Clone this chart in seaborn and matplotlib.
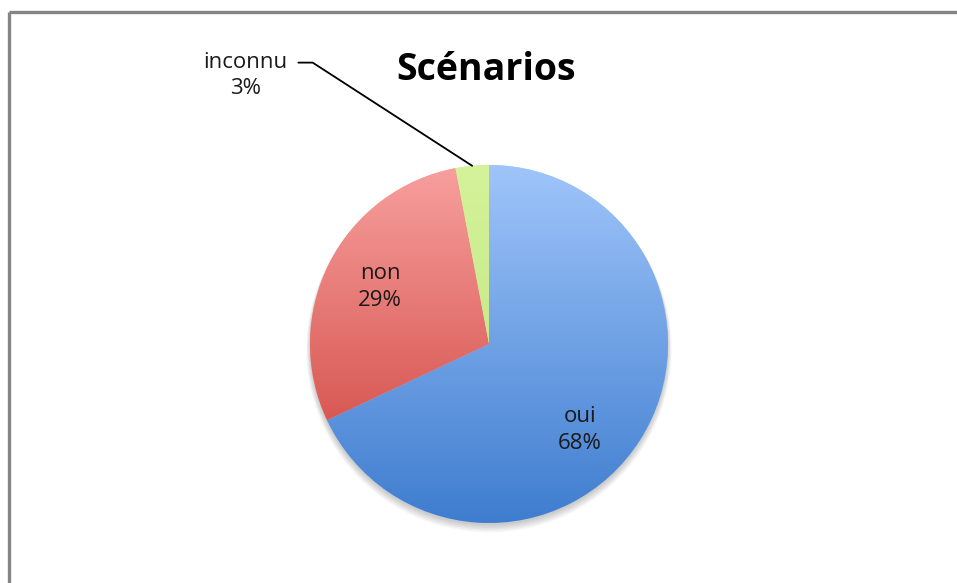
import numpy as np
import matplotlib
matplotlib.use("Agg")
import matplotlib.pyplot as plt
import seaborn as sns
from matplotlib.colors import LinearSegmentedColormap
from matplotlib.patches import Circle

# Data
categories = ['oui', 'non', 'inconnu']
shares = [68, 29, 3]
title = 'Scénarios'

# top / bottom colours of the vertical gradient for each slice
top_colors = ['#9fc5fa', '#f7a09e', '#d4f39a']
bottom_colors = ['#3f7dcf', '#cc3c36', '#bfe07e']

sns.set_theme(style='white')
plt.rcParams['font.family'] = ['Open Sans', 'DejaVu Sans']

W, H = 957, 583
fig = plt.figure(figsize=(W / 100, H / 100), dpi=100)
fig.patch.set_facecolor('white')

# frame lines (top and left only, as in the screenshot)
frame = fig.add_axes([0, 0, 1, 1])
frame.set_xlim(0, W)
frame.set_ylim(H, 0)
frame.axis('off')
frame.plot([9, W], [12, 12], color='#858585', lw=2.4, solid_capstyle='butt')
frame.plot([9, 9], [12, H], color='#858585', lw=2.4, solid_capstyle='butt')

# pie axes, centre (489, 344), radius 179 px, with a small margin
cx, cy, r = 489, 344, 179
pad = 1.1
ax = fig.add_axes([(cx - r * pad) / W, (H - cy - r * pad) / H,
                   2 * r * pad / W, 2 * r * pad / H])
ax.axis('off')

# soft shadow under the pie
for i in range(6):
    ax.add_patch(Circle((0, -0.012 - 0.004 * i), 1.0 + 0.004 * i,
                        color='black', alpha=0.035, lw=0, zorder=0))

wedges, _ = ax.pie(shares, startangle=90, counterclock=False, radius=1,
                   colors=top_colors, wedgeprops=dict(linewidth=0))

grad = np.linspace(0, 1, 256).reshape(-1, 1)
for w, c1, c2 in zip(wedges, top_colors, bottom_colors):
    cmap = LinearSegmentedColormap.from_list('g', [c1, c2])
    im = ax.imshow(grad, cmap=cmap, extent=[-1, 1, -1, 1], origin='upper',
                   aspect='auto', zorder=2, interpolation='bicubic')
    im.set_clip_path(w)

ax.set_xlim(-pad, pad)
ax.set_ylim(-pad, pad)
ax.set_aspect('equal')

# labels
label_pos = {'oui': (0.508, -0.48), 'non': (-0.609, 0.318)}
for name, val in zip(categories, shares):
    if name in label_pos:
        x, y = label_pos[name]
        ax.text(x, y, f'{name}\n{val}%', ha='center', va='center',
                fontsize=16, color='#1a1a1a', linespacing=1.35, zorder=5)

# inconnu label with leader line
w = wedges[2]
mid = np.deg2rad((w.theta1 + w.theta2) / 2)
tip = (np.cos(mid), np.sin(mid))
ax.text(-1.36, 1.50, f'{categories[2]}\n{shares[2]}%', ha='center', va='center',
        fontsize=16, color='#1a1a1a', linespacing=1.35, zorder=5, clip_on=False)
ax.plot([-1.065, -0.985, tip[0]], [1.572, 1.572, tip[1]], color='black',
        lw=1.3, clip_on=False, zorder=4)

fig.text(486 / W, 1 - 70 / H, title, ha='center', va='center',
         fontsize=27, fontweight='bold', color='black')

fig.savefig('out.png', dpi=100, facecolor='white')
